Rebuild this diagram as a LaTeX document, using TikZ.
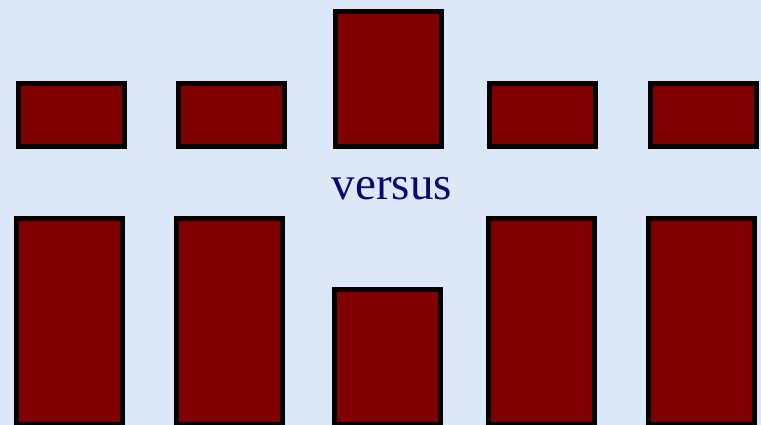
\documentclass[tikz,border=0pt]{standalone}
\usepackage{fontspec}
\setmainfont{Liberation Serif}
\definecolor{sky}{RGB}{218,232,247}
\definecolor{barred}{RGB}{128,0,0}
\definecolor{ink}{RGB}{8,8,110}
\begin{document}
\begin{tikzpicture}[x=1pt, y=-1pt]
        \tikzstyle{bar} = [draw=black, fill=barred, line width=5pt, inner sep=0pt, outer sep=0pt, anchor=center]
        \tikzstyle{low} = [minimum width=106pt, minimum height=63pt]
        \tikzstyle{tall} = [minimum width=106pt, minimum height=206pt]
        \tikzstyle{mid} = [minimum width=106pt, minimum height=135pt]

        \fill[sky] (0,0) rectangle (761,425);
        \clip (0,0) rectangle (761,425);

        % upper row
        \node (ua) [bar, low] at (71,115) {};
        \node (ub) [bar, low] at (231,115) {};
        \node (uc) [bar, mid] at (388.5,79) {};
        \node (ud) [bar, low] at (542.5,115) {};
        \node (ue) [bar, low] at (703.5,115) {};

        \node (vs) [anchor=base, text=ink, font=\fontsize{47}{50}\selectfont, inner sep=0pt] at (392,200) {versus};

        % lower row
        \node (la) [bar, tall] at (69.5,321.5) {};
        \node (lb) [bar, tall] at (229.5,321.5) {};
        \node (lc) [bar, mid] at (387.5,357) {};
        \node (ld) [bar, tall] at (541.5,321.5) {};
        \node (le) [bar, tall] at (701.5,321.5) {};

    \end{tikzpicture}
\end{document}
